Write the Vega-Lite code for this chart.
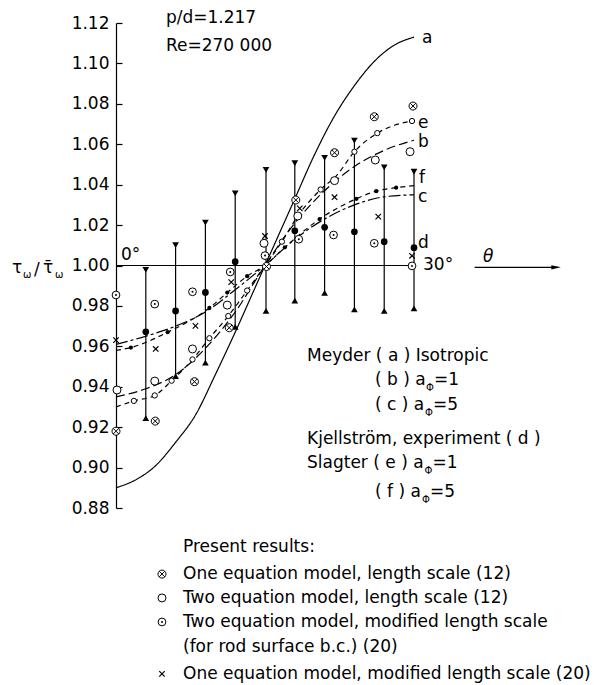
{
  "$schema": "https://vega.github.io/schema/vega-lite/v6.json",
  "width": 480,
  "height": 485,
  "autosize": {"type": "none"},
  "padding": {"left": 116, "top": 23, "right": 0, "bottom": 177},
  "background": "white",
  "config": {"view": {"stroke": null}, "font": "DejaVu Sans"},
  "datasets": {
    "curves": [
      {"curve": "a", "t": 0, "v": 0.890}, {"curve": "a", "t": 2, "v": 0.894}, {"curve": "a", "t": 4, "v": 0.901}, {"curve": "a", "t": 6, "v": 0.9125}, {"curve": "a", "t": 8, "v": 0.926}, {"curve": "a", "t": 10, "v": 0.946}, {"curve": "a", "t": 12, "v": 0.967}, {"curve": "a", "t": 14, "v": 0.989}, {"curve": "a", "t": 15, "v": 1.0}, {"curve": "a", "t": 16, "v": 1.011}, {"curve": "a", "t": 18, "v": 1.033}, {"curve": "a", "t": 20, "v": 1.055}, {"curve": "a", "t": 22, "v": 1.074}, {"curve": "a", "t": 24, "v": 1.089}, {"curve": "a", "t": 26, "v": 1.101}, {"curve": "a", "t": 28, "v": 1.109}, {"curve": "a", "t": 30, "v": 1.113},
      {"curve": "b", "t": 0, "v": 0.935}, {"curve": "b", "t": 3, "v": 0.939}, {"curve": "b", "t": 6, "v": 0.946}, {"curve": "b", "t": 9, "v": 0.959}, {"curve": "b", "t": 12, "v": 0.977}, {"curve": "b", "t": 15, "v": 1.0}, {"curve": "b", "t": 18, "v": 1.021}, {"curve": "b", "t": 21, "v": 1.037}, {"curve": "b", "t": 24, "v": 1.049}, {"curve": "b", "t": 27, "v": 1.057}, {"curve": "b", "t": 30, "v": 1.062},
      {"curve": "c", "t": 0, "v": 0.961}, {"curve": "c", "t": 3, "v": 0.965}, {"curve": "c", "t": 6, "v": 0.970}, {"curve": "c", "t": 9, "v": 0.977}, {"curve": "c", "t": 12, "v": 0.988}, {"curve": "c", "t": 15, "v": 1.0}, {"curve": "c", "t": 18, "v": 1.013}, {"curve": "c", "t": 21, "v": 1.023}, {"curve": "c", "t": 24, "v": 1.030}, {"curve": "c", "t": 27, "v": 1.034}, {"curve": "c", "t": 30, "v": 1.035},
      {"curve": "e", "t": 0, "v": 0.930}, {"curve": "e", "t": 1.8, "v": 0.933}, {"curve": "e", "t": 3.9, "v": 0.9357}, {"curve": "e", "t": 5.6, "v": 0.943}, {"curve": "e", "t": 7.7, "v": 0.9535}, {"curve": "e", "t": 9.4, "v": 0.964}, {"curve": "e", "t": 11.3, "v": 0.975}, {"curve": "e", "t": 13.2, "v": 0.9876}, {"curve": "e", "t": 15, "v": 1.0}, {"curve": "e", "t": 16.7, "v": 1.0118}, {"curve": "e", "t": 18.3, "v": 1.0245}, {"curve": "e", "t": 20.6, "v": 1.0376}, {"curve": "e", "t": 22.2, "v": 1.0445}, {"curve": "e", "t": 24.0, "v": 1.0563}, {"curve": "e", "t": 26.3, "v": 1.0655}, {"curve": "e", "t": 28.1, "v": 1.0695}, {"curve": "e", "t": 29.8, "v": 1.0715},
      {"curve": "f", "t": 0, "v": 0.958}, {"curve": "f", "t": 1.5, "v": 0.9594}, {"curve": "f", "t": 5.2, "v": 0.967}, {"curve": "f", "t": 9.4, "v": 0.979}, {"curve": "f", "t": 11.2, "v": 0.9866}, {"curve": "f", "t": 13.2, "v": 0.9947}, {"curve": "f", "t": 15, "v": 1.0}, {"curve": "f", "t": 17.0, "v": 1.009}, {"curve": "f", "t": 20.5, "v": 1.023}, {"curve": "f", "t": 24.2, "v": 1.033}, {"curve": "f", "t": 26.2, "v": 1.0368}, {"curve": "f", "t": 28.2, "v": 1.0385}, {"curve": "f", "t": 30, "v": 1.0395}
    ],
    "eMarks": [
      {"t": 1.8, "v": 0.933}, {"t": 3.9, "v": 0.9357}, {"t": 5.6, "v": 0.943}, {"t": 7.7, "v": 0.9535}, {"t": 9.4, "v": 0.964}, {"t": 11.3, "v": 0.975}, {"t": 13.2, "v": 0.9876}, {"t": 16.7, "v": 1.0118}, {"t": 20.6, "v": 1.0376}, {"t": 24.0, "v": 1.0563}, {"t": 26.3, "v": 1.0655}, {"t": 29.8, "v": 1.0715}
    ],
    "fMarks": [
      {"t": 1.5, "v": 0.9594}, {"t": 5.2, "v": 0.967}, {"t": 9.4, "v": 0.979}, {"t": 11.2, "v": 0.9866}, {"t": 13.2, "v": 0.9947}, {"t": 17.0, "v": 1.009}, {"t": 20.5, "v": 1.023}, {"t": 24.2, "v": 1.033}, {"t": 26.2, "v": 1.0368}, {"t": 28.2, "v": 1.0385}
    ],
    "exp": [
      {"t": 3, "k": "hi", "v": 0.9978}, {"t": 3, "k": "mean", "v": 0.9672}, {"t": 3, "k": "lo", "v": 0.9245},
      {"t": 6, "k": "hi", "v": 1.0101}, {"t": 6, "k": "mean", "v": 0.9775}, {"t": 6, "k": "lo", "v": 0.9453},
      {"t": 9, "k": "hi", "v": 1.0212}, {"t": 9, "k": "mean", "v": 0.9867}, {"t": 9, "k": "lo", "v": 0.9519},
      {"t": 12, "k": "hi", "v": 1.0357}, {"t": 12, "k": "mean", "v": 1.0019}, {"t": 12, "k": "lo", "v": 0.9697},
      {"t": 15.1, "k": "hi", "v": 1.0473}, {"t": 15.1, "k": "lo", "v": 0.9775},
      {"t": 18, "k": "hi", "v": 1.0506}, {"t": 18, "k": "mean", "v": 1.0172}, {"t": 18, "k": "lo", "v": 0.9826},
      {"t": 21, "k": "hi", "v": 1.0533}, {"t": 21, "k": "mean", "v": 1.0189}, {"t": 21, "k": "lo", "v": 0.9865},
      {"t": 24, "k": "hi", "v": 1.0618}, {"t": 24, "k": "mean", "v": 1.0167}, {"t": 24, "k": "lo", "v": 0.9783},
      {"t": 27, "k": "hi", "v": 1.0486}, {"t": 27, "k": "mean", "v": 1.0118}, {"t": 27, "k": "lo", "v": 0.9775},
      {"t": 30, "k": "hi", "v": 1.0464}, {"t": 30, "k": "mean", "v": 1.0088}, {"t": 30, "k": "lo", "v": 0.9788}
    ],
    "sym": [
      {"m": "one", "t": 0, "v": 0.918}, {"m": "one", "t": 3.95, "v": 0.9230}, {"m": "one", "t": 7.9, "v": 0.9425}, {"m": "one", "t": 11.4, "v": 0.9692}, {"m": "one", "t": 15.15, "v": 0.9995}, {"m": "one", "t": 18.1, "v": 1.0324}, {"m": "one", "t": 22.0, "v": 1.0558}, {"m": "one", "t": 26.0, "v": 1.0736}, {"m": "one", "t": 29.9, "v": 1.0789},
      {"m": "two", "t": 0.1, "v": 0.9384}, {"m": "two", "t": 3.9, "v": 0.9428}, {"m": "two", "t": 7.7, "v": 0.9587}, {"m": "two", "t": 11.2, "v": 0.9804}, {"m": "two", "t": 14.9, "v": 1.0110}, {"m": "two", "t": 18.3, "v": 1.0245}, {"m": "two", "t": 22.0, "v": 1.0420}, {"m": "two", "t": 26.1, "v": 1.0522}, {"m": "two", "t": 29.6, "v": 1.0563},
      {"m": "twomod", "t": 0, "v": 0.9854}, {"m": "twomod", "t": 3.9, "v": 0.9809}, {"m": "twomod", "t": 7.7, "v": 0.9870}, {"m": "twomod", "t": 11.5, "v": 0.9968}, {"m": "twomod", "t": 15.0, "v": 1.0049}, {"m": "twomod", "t": 18.4, "v": 1.0130}, {"m": "twomod", "t": 21.9, "v": 1.0151}, {"m": "twomod", "t": 26.0, "v": 1.0110}, {"m": "twomod", "t": 29.8, "v": 0.9998},
      {"m": "onemod", "t": 0, "v": 0.9631}, {"m": "onemod", "t": 4.0, "v": 0.9587}, {"m": "onemod", "t": 8.0, "v": 0.9701}, {"m": "onemod", "t": 11.6, "v": 0.9918}, {"m": "onemod", "t": 15.0, "v": 1.0146}, {"m": "onemod", "t": 18.5, "v": 1.0283}, {"m": "onemod", "t": 22.0, "v": 1.0338}, {"m": "onemod", "t": 26.4, "v": 1.0242}, {"m": "onemod", "t": 29.8, "v": 1.0048},
      {"m": "one", "t": 4.63, "v": 0.8473}, {"m": "two", "t": 4.63, "v": 0.8355}, {"m": "twomod", "t": 4.63, "v": 0.8236}, {"m": "onemod", "t": 4.63, "v": 0.7979}
    ],
    "guide": [
      {"id": "axis", "t": 0, "v": 1.0}, {"id": "axis", "t": 30, "v": 1.0},
      {"id": "arrow", "t": 36.1, "v": 0.9991}, {"id": "arrow", "t": 44.5, "v": 0.9991}
    ],
    "arrowHead": [{"t": 44.3, "v": 0.9991}],
    "txt": [
      {"t": 5.03, "v": 1.1202, "label": "p/d=1.217"},
      {"t": 5.03, "v": 1.1061, "label": "Re=270 000"},
      {"t": 30.81, "v": 1.1101, "label": "a"},
      {"t": 30.4, "v": 1.068, "label": "e"},
      {"t": 30.4, "v": 1.0586, "label": "b"},
      {"t": 30.5, "v": 1.0408, "label": "f"},
      {"t": 30.4, "v": 1.0314, "label": "c"},
      {"t": 30.4, "v": 1.0087, "label": "d"},
      {"t": 30.91, "v": 0.9978, "label": "30°"},
      {"t": 0.5, "v": 1.0027, "label": "0°"},
      {"t": -10.47, "v": 0.9963, "label": "τ"},
      {"t": -8.26, "v": 0.9953, "label": "/"},
      {"t": -7.35, "v": 0.9963, "label": "τ̄"},
      {"t": 19.23, "v": 0.9527, "label": "Meyder ( a ) Isotropic"},
      {"t": 26.07, "v": 0.9409, "label": "( b ) a"},
      {"t": 32.01, "v": 0.9409, "label": "=1"},
      {"t": 26.07, "v": 0.9285, "label": "( c ) a"},
      {"t": 31.91, "v": 0.9285, "label": "=5"},
      {"t": 19.23, "v": 0.9117, "label": "Kjellström, experiment ( d )"},
      {"t": 19.23, "v": 0.8998, "label": "Slagter ( e ) a"},
      {"t": 31.86, "v": 0.8998, "label": "=1"},
      {"t": 26.07, "v": 0.8854, "label": "( f ) a"},
      {"t": 31.61, "v": 0.8854, "label": "=5"},
      {"t": 6.745, "v": 0.8582, "label": "Present results:"},
      {"t": 6.745, "v": 0.8449, "label": "One equation model, length scale (12)"},
      {"t": 6.745, "v": 0.833, "label": "Two equation model, length scale (12)"},
      {"t": 6.745, "v": 0.8211, "label": "Two equation model, modified length scale"},
      {"t": 6.745, "v": 0.8087, "label": "(for rod surface b.c.) (20)"},
      {"t": 6.745, "v": 0.7954, "label": "One equation model, modified length scale (20)"}
    ],
    "sub": [
      {"t": -9.36, "v": 0.9938, "label": "ω"},
      {"t": -6.14, "v": 0.9938, "label": "ω"},
      {"t": 31.21, "v": 0.9379, "label": "Φ"},
      {"t": 31.11, "v": 0.9255, "label": "Φ"},
      {"t": 31.06, "v": 0.8968, "label": "Φ"},
      {"t": 30.81, "v": 0.8825, "label": "Φ"}
    ],
    "thetaLabel": [{"t": 36.95, "v": 1.0017, "label": "θ"}]
  },
  "encoding": {
    "x": {"field": "t", "type": "quantitative", "scale": {"domain": [0, 48.32], "nice": false, "zero": false}, "axis": null},
    "y": {"field": "v", "type": "quantitative", "scale": {"domain": [0.88, 1.12], "nice": false, "zero": false},
      "axis": {"values": [0.88, 0.9, 0.92, 0.94, 0.96, 0.98, 1.0, 1.02, 1.04, 1.06, 1.08, 1.1, 1.12], "format": ".2f", "title": null, "grid": false,
        "tickSize": -6, "labelPadding": 13, "domainColor": "black", "tickColor": "black", "labelColor": "black", "domainWidth": 1.2, "tickWidth": 1.2,
        "labelFont": "DejaVu Sans", "labelFontSize": 17, "labelBaseline": "middle"}}
  },
  "layer": [
    {"data": {"name": "curves"}, "mark": {"type": "line", "interpolate": "monotone", "color": "black", "strokeWidth": 1.2},
      "encoding": {"strokeDash": {"field": "curve", "type": "nominal", "legend": null,
        "scale": {"domain": ["a", "b", "c", "e", "f"], "range": [[1, 0], [9, 4], [12, 3, 3, 3], [5, 4], [5, 4]]}}}},
    {"data": {"name": "guide"}, "mark": {"type": "line", "color": "black", "strokeWidth": 1.2},
      "encoding": {"detail": {"field": "id", "type": "nominal"}}},
    {"data": {"name": "arrowHead"}, "mark": {"type": "point", "shape": "M-1 -0.45L1 0L-1 0.45Z", "size": 90, "filled": true, "color": "black", "opacity": 1}},
    {"data": {"name": "exp"}, "mark": {"type": "line", "color": "black", "strokeWidth": 1.2},
      "encoding": {"detail": {"field": "t", "type": "nominal"}, "order": {"field": "v", "type": "quantitative"}}},
    {"data": {"name": "exp"}, "transform": [{"filter": "datum.k == 'hi'"}],
      "mark": {"type": "point", "shape": "triangle-down", "size": 45, "filled": true, "color": "black", "opacity": 1}},
    {"data": {"name": "exp"}, "transform": [{"filter": "datum.k == 'lo'"}],
      "mark": {"type": "point", "shape": "triangle-up", "size": 45, "filled": true, "color": "black", "opacity": 1}},
    {"data": {"name": "exp"}, "transform": [{"filter": "datum.k == 'mean'"}],
      "mark": {"type": "point", "shape": "circle", "size": 45, "filled": true, "color": "black", "opacity": 1}},
    {"data": {"name": "eMarks"}, "mark": {"type": "point", "shape": "circle", "size": 28, "filled": true, "fill": "white", "stroke": "black", "strokeWidth": 1, "opacity": 1}},
    {"data": {"name": "fMarks"}, "mark": {"type": "point", "shape": "circle", "size": 18, "filled": true, "color": "black", "opacity": 1}},
    {"data": {"name": "sym"}, "transform": [{"filter": "datum.m == 'one'"}],
      "mark": {"type": "point", "shape": "M-1 0A1 1 0 1 1 1 0A1 1 0 1 1 -1 0ZM-0.71 -0.71L0.71 0.71M-0.71 0.71L0.71 -0.71", "size": 64, "filled": true, "fill": "white", "stroke": "black", "strokeWidth": 1, "opacity": 1}},
    {"data": {"name": "sym"}, "transform": [{"filter": "datum.m == 'two'"}],
      "mark": {"type": "point", "shape": "circle", "size": 64, "filled": true, "fill": "white", "stroke": "black", "strokeWidth": 1, "opacity": 1}},
    {"data": {"name": "sym"}, "transform": [{"filter": "datum.m == 'twomod'"}],
      "mark": {"type": "point", "shape": "circle", "size": 60, "filled": true, "fill": "white", "stroke": "black", "strokeWidth": 1, "opacity": 1}},
    {"data": {"name": "sym"}, "transform": [{"filter": "datum.m == 'twomod'"}],
      "mark": {"type": "point", "shape": "circle", "size": 4, "filled": true, "color": "black", "opacity": 1}},
    {"data": {"name": "sym"}, "transform": [{"filter": "datum.m == 'onemod'"}],
      "mark": {"type": "point", "shape": "M-1 -1L1 1M-1 1L1 -1", "size": 30, "filled": false, "stroke": "black", "strokeWidth": 1.2, "opacity": 1}},
    {"data": {"name": "txt"}, "mark": {"type": "text", "align": "left", "baseline": "alphabetic", "font": "DejaVu Sans", "fontSize": 17, "color": "black"},
      "encoding": {"text": {"field": "label", "type": "nominal"}}},
    {"data": {"name": "sub"}, "mark": {"type": "text", "align": "left", "baseline": "alphabetic", "font": "DejaVu Sans", "fontSize": 10, "color": "black"},
      "encoding": {"text": {"field": "label", "type": "nominal"}}},
    {"data": {"name": "thetaLabel"}, "mark": {"type": "text", "align": "left", "baseline": "alphabetic", "font": "DejaVu Sans", "fontSize": 17, "fontStyle": "italic", "color": "black"},
      "encoding": {"text": {"field": "label", "type": "nominal"}}}
  ]
}
